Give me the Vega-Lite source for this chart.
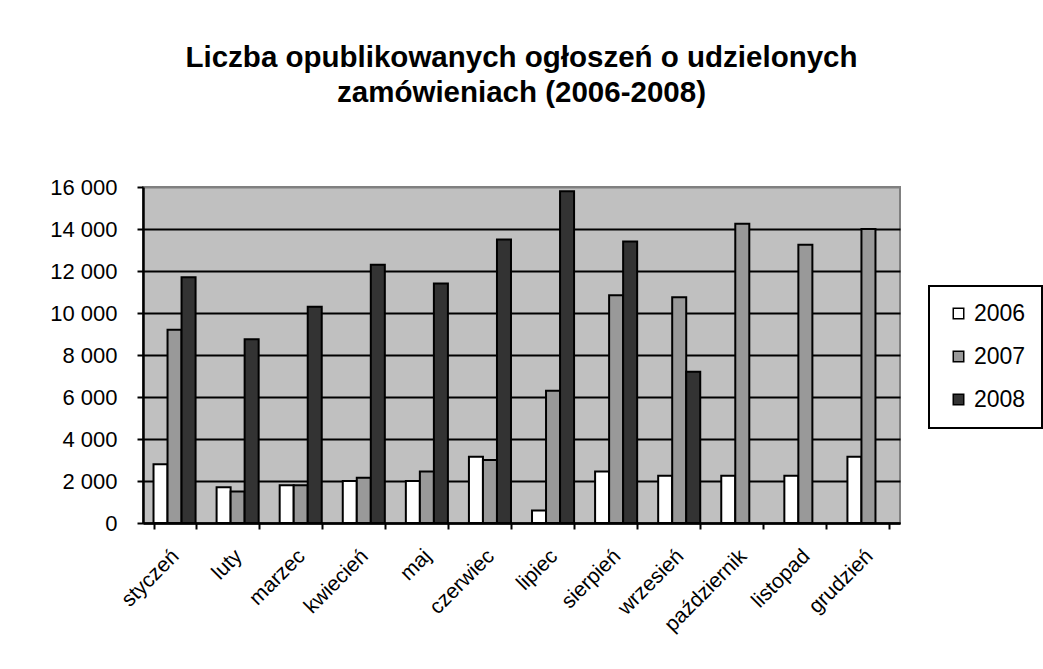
{
  "$schema": "https://vega.github.io/schema/vega-lite/v6.json",
  "width": 757,
  "height": 336,
  "autosize": {"type": "none"},
  "padding": {"left": 143, "top": 187, "right": 143, "bottom": 146},
  "background": "white",
  "title": {
    "text": ["Liczba opublikowanych ogłoszeń o udzielonych", "zamówieniach (2006-2008)"],
    "font": "Liberation Sans",
    "fontSize": 29.5,
    "fontWeight": "bold",
    "color": "black",
    "anchor": "middle",
    "frame": "group",
    "lineHeight": 35,
    "offset": 68
  },
  "data": {
    "values": [
      {"month": "styczeń", "year": "2006", "value": 2800},
      {"month": "styczeń", "year": "2007", "value": 9200},
      {"month": "styczeń", "year": "2008", "value": 11700},
      {"month": "luty", "year": "2006", "value": 1700},
      {"month": "luty", "year": "2007", "value": 1500},
      {"month": "luty", "year": "2008", "value": 8750},
      {"month": "marzec", "year": "2006", "value": 1800},
      {"month": "marzec", "year": "2007", "value": 1800},
      {"month": "marzec", "year": "2008", "value": 10300},
      {"month": "kwiecień", "year": "2006", "value": 2000},
      {"month": "kwiecień", "year": "2007", "value": 2150},
      {"month": "kwiecień", "year": "2008", "value": 12300},
      {"month": "maj", "year": "2006", "value": 2000},
      {"month": "maj", "year": "2007", "value": 2450},
      {"month": "maj", "year": "2008", "value": 11400},
      {"month": "czerwiec", "year": "2006", "value": 3150},
      {"month": "czerwiec", "year": "2007", "value": 3000},
      {"month": "czerwiec", "year": "2008", "value": 13500},
      {"month": "lipiec", "year": "2006", "value": 600},
      {"month": "lipiec", "year": "2007", "value": 6300},
      {"month": "lipiec", "year": "2008", "value": 15800},
      {"month": "sierpień", "year": "2006", "value": 2450},
      {"month": "sierpień", "year": "2007", "value": 10850},
      {"month": "sierpień", "year": "2008", "value": 13400},
      {"month": "wrzesień", "year": "2006", "value": 2250},
      {"month": "wrzesień", "year": "2007", "value": 10750},
      {"month": "wrzesień", "year": "2008", "value": 7200},
      {"month": "październik", "year": "2006", "value": 2250},
      {"month": "październik", "year": "2007", "value": 14250},
      {"month": "listopad", "year": "2006", "value": 2250},
      {"month": "listopad", "year": "2007", "value": 13250},
      {"month": "grudzień", "year": "2006", "value": 3150},
      {"month": "grudzień", "year": "2007", "value": 14000}
    ]
  },
  "mark": {"type": "bar", "stroke": "black", "strokeWidth": 2},
  "encoding": {
    "x": {
      "field": "month",
      "type": "nominal",
      "sort": ["styczeń", "luty", "marzec", "kwiecień", "maj", "czerwiec", "lipiec", "sierpień", "wrzesień", "październik", "listopad", "grudzień"],
      "scale": {"paddingInner": 0.3333, "paddingOuter": 0.1667},
      "axis": {
        "title": null,
        "labelAngle": -45,
        "labelFont": "Liberation Sans",
        "labelFontSize": 21,
        "labelColor": "black",
        "labelPadding": 16,
        "labelOffset": -7,
        "tickBand": "extent",
        "tickColor": "black",
        "tickSize": 6,
        "tickWidth": 2,
        "domainColor": "black",
        "domainWidth": 2.5,
        "grid": false
      }
    },
    "xOffset": {
      "field": "year",
      "type": "nominal",
      "sort": ["2006", "2007", "2008"],
      "scale": {"domain": ["2006", "2007", "2008"], "paddingInner": 0, "paddingOuter": 0}
    },
    "y": {
      "field": "value",
      "type": "quantitative",
      "scale": {"domain": [0, 16000], "nice": false},
      "axis": {
        "title": null,
        "values": [0, 2000, 4000, 6000, 8000, 10000, 12000, 14000, 16000],
        "labelExpr": "replace(format(datum.value, ','), ',', ' ')",
        "labelFont": "Liberation Sans",
        "labelFontSize": 22,
        "labelColor": "black",
        "labelPadding": 20,
        "tickColor": "black",
        "tickSize": 6,
        "tickWidth": 2,
        "domainColor": "black",
        "domainWidth": 2.5,
        "grid": true,
        "gridColor": {"condition": {"test": "datum.value == 16000", "value": "#808080"}, "value": "black"},
        "gridWidth": 2,
        "gridOpacity": 1
      }
    },
    "fill": {
      "field": "year",
      "type": "nominal",
      "scale": {"domain": ["2006", "2007", "2008"], "range": ["#ffffff", "#999999", "#333333"]},
      "legend": {
        "title": null,
        "orient": "none",
        "legendX": 786,
        "legendY": 99,
        "direction": "vertical",
        "fillColor": "white",
        "strokeColor": "black",
        "padding": 16,
        "symbolType": "square",
        "symbolSize": 110,
        "symbolStrokeColor": "black",
        "symbolStrokeWidth": 1.5,
        "symbolOffset": 2,
        "labelFont": "Liberation Sans",
        "labelFontSize": 23,
        "labelColor": "black",
        "labelOffset": 4,
        "rowPadding": 19
      }
    }
  },
  "config": {
    "view": {"fill": "#C0C0C0", "stroke": "#808080", "strokeWidth": 2},
    "legend": {"strokeWidth": 2}
  }
}
